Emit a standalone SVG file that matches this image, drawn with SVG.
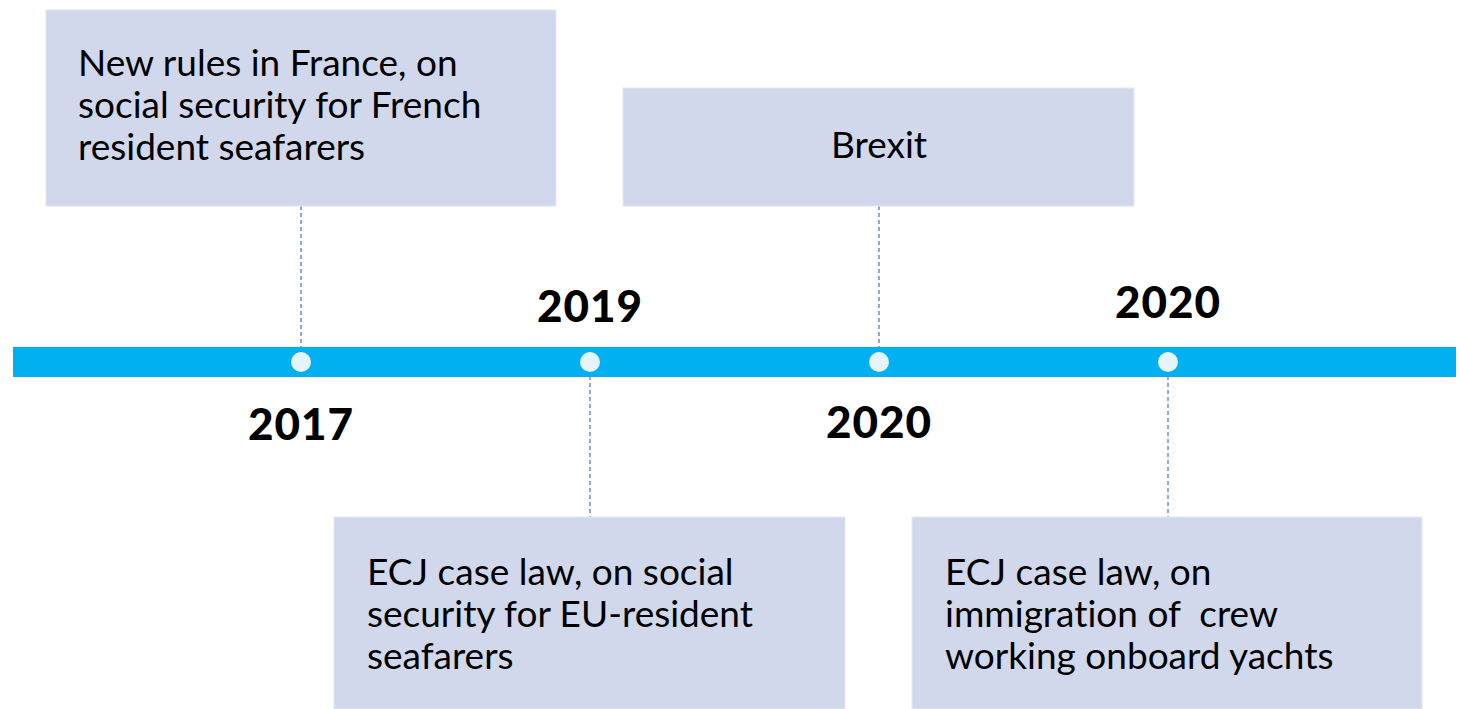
<svg xmlns="http://www.w3.org/2000/svg" width="1460" height="709" viewBox="0 0 1460 709">
<style>
.box{fill:#D1D8EB;stroke:#E3E8F3;stroke-width:1}
.t{font-family:Lato,"Open Sans","Liberation Sans",sans-serif;font-size:37px;fill:#000;white-space:pre;font-variant-ligatures:none}
.yr{font-family:Lato,"Liberation Sans",sans-serif;font-size:44px;font-weight:900;fill:#000;text-anchor:middle;letter-spacing:1px}
.dash{stroke:#4472C4;stroke-width:1.2;stroke-dasharray:4,3;fill:none}
.dot{fill:#E6F5FC}
</style>
<rect width="1460" height="709" fill="#fff"/>
<g id="connectors">
<line class="dash" x1="301" y1="206" x2="301" y2="348"/>
<line class="dash" x1="879" y1="206" x2="879" y2="348"/>
<line class="dash" x1="590" y1="376" x2="590" y2="517"/>
<line class="dash" x1="1168" y1="376" x2="1168" y2="517"/>
</g>
<g id="timeline">
<rect x="13" y="347" width="1443" height="30" fill="#00B0F0"/>
<circle class="dot" cx="301" cy="362" r="10"/>
<circle class="dot" cx="590" cy="362" r="10"/>
<circle class="dot" cx="879" cy="362" r="10"/>
<circle class="dot" cx="1168" cy="362" r="10"/>
</g>
<g id="years">
<text class="yr" x="590" y="322">2019</text>
<text class="yr" x="1168" y="318">2020</text>
<text class="yr" x="301" y="440">2017</text>
<text class="yr" x="879" y="438">2020</text>
</g>
<g id="node-france">
<rect class="box" x="46" y="10" width="510" height="196"/>
<text class="t" x="78" y="76">New rules in France, on</text>
<text class="t" x="78" y="118">social security for French</text>
<text class="t" x="78" y="160">resident seafarers</text>
</g>
<g id="node-brexit">
<rect class="box" x="623" y="88" width="511" height="118"/>
<text class="t" x="879" y="158" text-anchor="middle">Brexit</text>
</g>
<g id="node-ecj1">
<rect class="box" x="334" y="517" width="511" height="192"/>
<text class="t" x="367" y="585">ECJ case law, on social</text>
<text class="t" x="367" y="627">security for EU-resident</text>
<text class="t" x="367" y="669">seafarers</text>
</g>
<g id="node-ecj2">
<rect class="box" x="912" y="517" width="510" height="192"/>
<text class="t" x="945" y="585">ECJ case law, on</text>
<text class="t" x="945" y="627" xml:space="preserve">immigration of  crew</text>
<text class="t" x="945" y="669">working onboard yachts</text>
</g>
</svg>
